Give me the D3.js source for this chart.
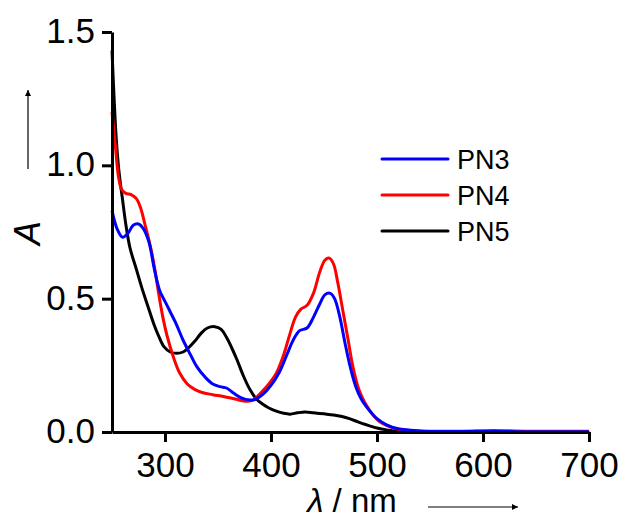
<!DOCTYPE html>
<html>
<head>
<meta charset="utf-8">
<script src="https://cdn.jsdelivr.net/npm/d3@7"></script>
<style>
  body { margin: 0; background: #fff; }
  text { font-family: Arial, "Liberation Sans", sans-serif; }
</style>
</head>
<body>
<div id="chart"></div>
<script>
//Configurables
const width = 639;
const height = 518;
const margin = {top: 32, right: 50, bottom: 86, left: 112};

//Data: [wavelength nm, absorbance]
const pn3 = [
  [250, 0.83], [255, 0.76], [260, 0.73], [265, 0.745], [270, 0.775], [275, 0.78],
  [280, 0.76], [285, 0.71], [290, 0.61], [295, 0.53], [300, 0.49], [305, 0.45],
  [310, 0.41], [317, 0.345], [324, 0.29], [330, 0.245], [338, 0.205], [345, 0.18],
  [352, 0.17], [358, 0.165], [365, 0.145], [372, 0.128], [380, 0.12], [385, 0.122],
  [392, 0.14], [400, 0.175], [408, 0.225], [415, 0.29], [421, 0.345], [427, 0.38],
  [434, 0.39], [440, 0.43], [446, 0.48], [451, 0.515], [456, 0.52], [460, 0.5],
  [465, 0.43], [470, 0.33], [475, 0.24], [480, 0.17], [485, 0.125], [490, 0.095],
  [495, 0.07], [500, 0.05], [509, 0.027], [520, 0.012], [540, 0.004], [560, 0.002],
  [600, 0.002], [650, 0.001], [700, 0.001]
];
const pn4 = [
  [250, 1.20], [253, 1.08], [256, 0.96], [259, 0.91], [263, 0.895], [268, 0.89],
  [273, 0.875], [277, 0.84], [281, 0.78], [286, 0.70], [290, 0.62], [294, 0.52],
  [298, 0.43], [302, 0.36], [308, 0.28], [314, 0.22], [321, 0.18], [328, 0.16],
  [335, 0.148], [345, 0.14], [355, 0.133], [365, 0.125], [372, 0.118], [378, 0.115],
  [383, 0.12], [390, 0.145], [398, 0.18], [405, 0.22], [412, 0.29], [418, 0.37],
  [423, 0.43], [428, 0.46], [434, 0.475], [440, 0.52], [446, 0.6], [451, 0.645],
  [455, 0.652], [459, 0.63], [463, 0.56], [468, 0.45], [473, 0.34], [477, 0.25],
  [482, 0.17], [486, 0.13], [490, 0.10], [496, 0.065], [502, 0.04], [509, 0.025],
  [520, 0.01], [540, 0.004], [580, 0.003], [610, 0.006], [640, 0.003], [700, 0.003]
];
const pn5 = [
  [250, 1.43], [252, 1.25], [254, 1.10], [256, 1.0], [258, 0.93], [260, 0.87],
  [263, 0.78], [267, 0.69], [273, 0.61], [279, 0.53], [284, 0.47], [289, 0.41],
  [294, 0.36], [299, 0.32], [305, 0.30], [311, 0.295], [317, 0.30], [322, 0.315],
  [328, 0.34], [334, 0.37], [340, 0.39], [347, 0.395], [353, 0.385], [358, 0.355],
  [363, 0.315], [368, 0.27], [374, 0.21], [380, 0.16], [386, 0.125], [392, 0.105],
  [398, 0.09], [405, 0.078], [412, 0.07], [418, 0.067], [425, 0.072], [432, 0.075],
  [440, 0.072], [450, 0.068], [459, 0.064], [467, 0.058], [474, 0.05], [482, 0.038],
  [490, 0.027], [500, 0.015], [509, 0.008], [520, 0.003], [550, 0.001], [700, 0.001]
];
const seriesNames = ['PN3', 'PN4', 'PN5'];
const seriesColors = ['#0000ff', '#ff0000', '#000000'];
const xTicks = [300, 400, 500, 600, 700];
const yTicks = [0.0, 0.5, 1.0, 1.5];

const svg = d3.select('#chart').append('svg')
    .attr('width', width)
    .attr('height', height);

const x = d3.scaleLinear().domain([250, 700]).range([margin.left, width - margin.right]);
const y = d3.scaleLinear().domain([0, 1.5]).range([height - margin.bottom, margin.top]);

const line = d3.line()
    .x(d => x(d[0]))
    .y(d => y(d[1]))
    .curve(d3.curveCatmullRom.alpha(0.5));

//curves, PN5 drawn first so PN3 sits on top
const allSeries = [pn3, pn4, pn5];
[2, 1, 0].forEach(i => {
  svg.append('path')
    .datum(allSeries[i])
    .attr('fill', 'none')
    .attr('stroke', seriesColors[i])
    .attr('stroke-width', 3)
    .attr('stroke-linejoin', 'round')
    .attr('d', line);
});

//axes
const xAxis = svg.append('g')
    .attr('transform', `translate(0,${height - margin.bottom})`)
    .call(d3.axisBottom(x).tickValues(xTicks).tickSize(10).tickPadding(10).tickSizeOuter(0));
const yAxis = svg.append('g')
    .attr('transform', `translate(${margin.left},0)`)
    .call(d3.axisLeft(y).tickValues(yTicks).tickFormat(d3.format('.1f')).tickSize(10).tickPadding(7).tickSizeOuter(0));

[xAxis, yAxis].forEach(a => {
  a.select('.domain').attr('stroke', '#000').attr('stroke-width', 3);
  a.selectAll('.tick line').attr('stroke', '#000').attr('stroke-width', 3);
  a.selectAll('.tick text')
    .attr('fill', '#000')
    .style('font-size', '35px')
    .style('font-family', 'Arial, "Liberation Sans", sans-serif');
});
yAxis.selectAll('.tick text').attr('dy', '0.3em');

//axis titles
svg.append('text')
    .attr('transform', `translate(40,233) rotate(-90)`)
    .attr('text-anchor', 'middle')
    .style('font-size', '36px')
    .style('font-style', 'italic')
    .text('A');

svg.append('text')
    .attr('x', 352)
    .attr('y', 512)
    .attr('text-anchor', 'middle')
    .style('font-size', '33px')
    .html('<tspan font-style="italic">λ</tspan> / nm');

//arrows
const defs = svg.append('defs');
defs.append('marker')
    .attr('id', 'arrow')
    .attr('viewBox', '0 0 10 10')
    .attr('refX', 10).attr('refY', 5)
    .attr('markerWidth', 9).attr('markerHeight', 6)
    .attr('markerUnits', 'userSpaceOnUse')
    .attr('orient', 'auto')
    .append('path')
    .attr('d', 'M0,0 L10,5 L0,10 Z')
    .attr('fill', '#000');

svg.append('line')
    .attr('x1', 28).attr('y1', 169).attr('x2', 28).attr('y2', 90)
    .attr('stroke', '#000').attr('stroke-width', 1.2)
    .attr('marker-end', 'url(#arrow)');
svg.append('line')
    .attr('x1', 428).attr('y1', 507).attr('x2', 518).attr('y2', 507)
    .attr('stroke', '#000').attr('stroke-width', 1.2)
    .attr('marker-end', 'url(#arrow)');

//legend
const legend = svg.append('g');
seriesNames.forEach((name, i) => {
  const ly = 159 + i * 36;
  legend.append('line')
    .attr('x1', 382).attr('x2', 448)
    .attr('y1', ly).attr('y2', ly)
    .attr('stroke', seriesColors[i])
    .attr('stroke-width', 3)
    .attr('stroke-linecap', 'round');
  legend.append('text')
    .attr('x', 457)
    .attr('y', ly)
    .attr('dy', '0.36em')
    .style('font-size', '27px')
    .text(name);
});
</script>
</body>
</html>
